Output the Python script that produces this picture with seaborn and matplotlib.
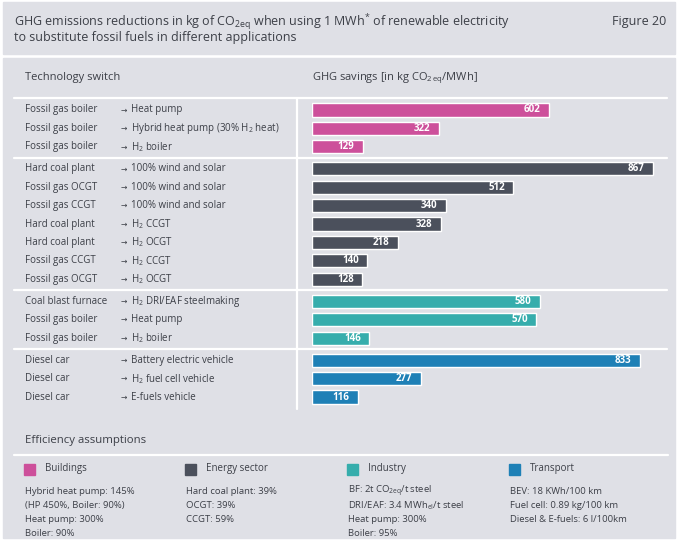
import pandas as pd
import matplotlib
matplotlib.use("Agg")
import matplotlib.pyplot as plt
import matplotlib.transforms as mtransforms
from matplotlib.patches import Rectangle
import seaborn as sns

# ===================================
# Data
# ===================================

sources = [
    "Fossil gas boiler", "Fossil gas boiler", "Fossil gas boiler",
    "Hard coal plant", "Fossil gas OCGT", "Fossil gas CCGT",
    "Hard coal plant", "Hard coal plant", "Fossil gas CCGT", "Fossil gas OCGT",
    "Coal blast furnace", "Fossil gas boiler", "Fossil gas boiler",
    "Diesel car", "Diesel car", "Diesel car",
]
targets = [
    "Heat pump", "Hybrid heat pump (30% H$_\\mathregular{2}$ heat)", "H$_\\mathregular{2}$ boiler",
    "100% wind and solar", "100% wind and solar", "100% wind and solar",
    "H$_\\mathregular{2}$ CCGT", "H$_\\mathregular{2}$ OCGT", "H$_\\mathregular{2}$ CCGT", "H$_\\mathregular{2}$ OCGT",
    "H$_\\mathregular{2}$ DRI/EAF steelmaking", "Heat pump", "H$_\\mathregular{2}$ boiler",
    "Battery electric vehicle", "H$_\\mathregular{2}$ fuel cell vehicle", "E-fuels vehicle",
]
savings = [602, 322, 129, 867, 512, 340, 328, 218, 140, 128, 580, 570, 146, 833, 277, 116]
sectors = ["Buildings"] * 3 + ["Energy sector"] * 7 + ["Industry"] * 3 + ["Transport"] * 3

sector_names = ["Buildings", "Energy sector", "Industry", "Transport"]
sector_colors = ["#cd509b", "#4b505c", "#36adac", "#1e80b6"]
assumptions = [
    ["Hybrid heat pump: 145%", "(HP 450%, Boiler: 90%)", "Heat pump: 300%", "Boiler: 90%"],
    ["Hard coal plant: 39%", "OCGT: 39%", "CCGT: 59%"],
    ["BF: 2t CO$_\\mathregular{2eq}$/t steel", "DRI/EAF: 3.4 MWh$_\\mathregular{el}$/t steel",
     "Heat pump: 300%", "Boiler: 95%"],
    ["BEV: 18 KWh/100 km", "Fuel cell: 0.89 kg/100 km", "Diesel & E-fuels: 6 l/100km"],
]

BG = "#dfe0e6"
TXT = "#3c3f47"

df = pd.DataFrame({"source": sources, "target": targets,
                   "savings": savings, "sector": sectors})
# row position with a small extra gap between sector groups
group_idx = df["sector"].map({s: i for i, s in enumerate(sector_names)})
df["pos"] = df.index + 0.2 * group_idx

# ===================================
# Figure & fonts
# ===================================

sns.set_style("white")
plt.rcParams["font.family"] = ["Open Sans", "DejaVu Sans"]
plt.rcParams["mathtext.fontset"] = "custom"
plt.rcParams["mathtext.rm"] = "Open Sans"
plt.rcParams["mathtext.it"] = "Open Sans:italic"
plt.rcParams["mathtext.bf"] = "Open Sans:bold"


def fx(px):
    return px / 680


def fy(py):
    return 1 - py / 540


fig = plt.figure(figsize=(6.8, 5.4), dpi=100, facecolor="white")

# background panels
fig.patches.append(Rectangle((fx(3), fy(54)), fx(672), 52 / 540,
                             transform=fig.transFigure, color=BG, zorder=-10))
fig.patches.append(Rectangle((fx(3), fy(538)), fx(672), 480 / 540,
                             transform=fig.transFigure, color=BG, zorder=-10))

# titles
fig.text(fx(14), fy(22), "GHG emissions reductions in kg of CO$_\\mathregular{2eq}$ when using "
         "1 MWh$^\\mathregular{*}$ of renewable electricity",
         fontsize=9, color=TXT, va="center")
fig.text(fx(14), fy(38), "to substitute fossil fuels in different applications",
         fontsize=9, color=TXT, va="center")
fig.text(fx(666), fy(22), "Figure 20", fontsize=9, color=TXT, va="center", ha="right")

fig.text(fx(25), fy(78), "Technology switch", fontsize=8, color=TXT, va="center")
fig.text(fx(312), fy(78), "GHG savings [in kg CO$_\\mathregular{2\\,eq}$/MWh]",
         fontsize=8, color=TXT, va="center")

# ===================================
# Bars
# ===================================

ax = fig.add_axes([fx(312), fy(409), 354 / 680, 311 / 540])
ax.patch.set_alpha(0)

sns.barplot(
    data=df, x="savings", y="pos", hue="sector",
    hue_order=sector_names, palette=sector_colors,
    orient="h", native_scale=True, dodge=False,
    width=0.72, legend=False, saturation=1, ax=ax,
)

ax.set_xlim(0, 900)
ax.set_ylim(df["pos"].max() + 0.65, -0.65)
ax.axis("off")

for _, r in df.iterrows():
    ax.annotate(str(r["savings"]), (r["savings"], r["pos"]),
                xytext=(-6, 0), textcoords="offset points",
                ha="right", va="center", fontsize=7,
                fontweight="bold", color="white")

# left hand labels
tr = mtransforms.blended_transform_factory(fig.transFigure, ax.transData)
for _, r in df.iterrows():
    ax.text(fx(25), r["pos"], r["source"], transform=tr, fontsize=7,
            color=TXT, va="center", clip_on=False)
    ax.text(fx(121), r["pos"], "\u2192", transform=tr, fontsize=5.5,
            family="DejaVu Sans", color=TXT, va="center", clip_on=False)
    ax.text(fx(131), r["pos"], r["target"], transform=tr, fontsize=7,
            color=TXT, va="center", clip_on=False)

# separators
ax.plot([fx(14), fx(667)], [-0.65, -0.65], transform=tr, color="white",
        lw=1.6, clip_on=False)
for g in range(1, len(sector_names)):
    first = df.index[df["sector"] == sector_names[g]][0]
    y_sep = (df["pos"][first] + df["pos"][first - 1]) / 2
    ax.plot([fx(14), fx(667)], [y_sep, y_sep], transform=tr, color="white",
            lw=1.6, clip_on=False)
ax.plot([fx(297), fx(297)], [-0.65, df["pos"].max() + 0.65], transform=tr,
        color="white", lw=1.6, clip_on=False)

# ===================================
# Efficiency assumptions
# ===================================

fig.text(fx(25), fy(440), "Efficiency assumptions", fontsize=8.2, color=TXT, va="center")
fig.add_artist(plt.Line2D([fx(14), fx(668)], [fy(455), fy(455)],
                          transform=fig.transFigure, color="white", lw=1.6))

col_x = [25, 186, 348, 510]
for name, colr, lines, x0 in zip(sector_names, sector_colors, assumptions, col_x):
    fig.patches.append(Rectangle((fx(x0 - 1), fy(475)), 11 / 680, 11 / 540,
                                 transform=fig.transFigure, color=colr, zorder=2))
    fig.text(fx(x0 + 20), fy(469), name, fontsize=7, color=TXT, va="center")
    for k, line in enumerate(lines):
        fig.text(fx(x0), fy(491 + 14.3 * k), line, fontsize=6.8, color=TXT, va="center")

fig.savefig("out.png", dpi=100, facecolor="white")
